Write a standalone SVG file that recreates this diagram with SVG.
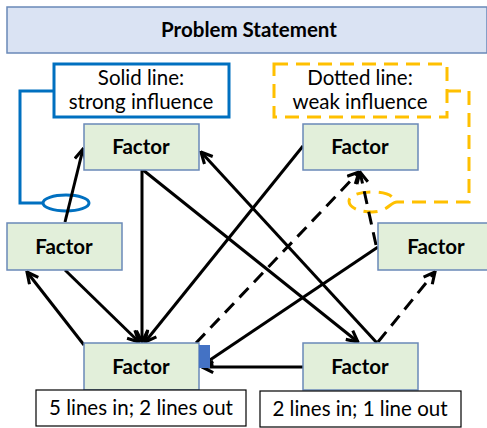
<svg xmlns="http://www.w3.org/2000/svg" width="487" height="428" viewBox="0 0 487 428">
<style>
.node rect{fill:#e2efda;stroke:#6a89b8;stroke-width:1.5}
.node text{font-family:Lato,"Liberation Sans",sans-serif;font-weight:bold;font-size:20.5px;text-anchor:middle;fill:#000}
.lbl{font-family:Lato,"Liberation Sans",sans-serif;font-size:20.5px;text-anchor:middle;fill:#000}
.edge{stroke:#000;stroke-width:3;fill:none;marker-end:url(#arr)}
.dash{stroke-dasharray:13 8}
.note{fill:#fff;stroke:#000;stroke-width:1.2}
</style>
<defs>
<marker id="arr" viewBox="0 0 10 10" refX="9" refY="5" markerWidth="14" markerHeight="14" markerUnits="userSpaceOnUse" orient="auto">
<path d="M1,1 L9,5 L1,9" fill="none" stroke="#000" stroke-width="2.2"/>
</marker>
</defs>
<rect width="487" height="428" fill="#fff"/>
<g id="title">
<rect x="7" y="7" width="480" height="46" fill="#dae3f3" stroke="#6a89b8" stroke-width="1.5"/>
<text x="249" y="37" font-family="Lato,'Liberation Sans',sans-serif" font-weight="bold" font-size="20.5" text-anchor="middle">Problem Statement</text>
</g>
<g id="legend-solid">
<rect x="54" y="64" width="175" height="53" fill="#fff" stroke="#0070c0" stroke-width="3"/>
<text class="lbl" x="141" y="85">Solid line:</text>
<text class="lbl" x="141" y="109">strong influence</text>
<polyline points="54,91 20,91 20,203 43,203" fill="none" stroke="#0070c0" stroke-width="3"/>
<ellipse cx="66" cy="203" rx="23" ry="8" fill="none" stroke="#0070c0" stroke-width="3"/>
</g>
<g id="legend-dotted">
<rect x="274" y="64" width="173" height="53" fill="#fff" stroke="#ffc000" stroke-width="3" stroke-dasharray="14 8"/>
<text class="lbl" x="360" y="85">Dotted line:</text>
<text class="lbl" x="360" y="109">weak influence</text>
<polyline points="447,91 469,91 469,202 397,202" fill="none" stroke="#ffc000" stroke-width="3" stroke-dasharray="14 8"/>
<path d="M397,202 C390,202 388,212 372,212 C356,212 349,206 349,201 C349,196 358,192 372,192 C386,192 393,196 393,199" fill="none" stroke="#ffc000" stroke-width="3" stroke-dasharray="14 8"/>
</g>
<g id="connectors">
<line class="edge" x1="65" y1="222" x2="83" y2="149"/>
<line class="edge" x1="377" y1="343" x2="201" y2="152"/>
<line class="edge" x1="142" y1="170" x2="142" y2="342"/>
<line class="edge" x1="303" y1="146" x2="145" y2="342"/>
<line class="edge dash" x1="196" y1="343" x2="359" y2="172"/>
<line class="edge" x1="143" y1="170" x2="358" y2="342"/>
<line class="edge" x1="378" y1="247" x2="201" y2="366"/>
<line class="edge dash" x1="376" y1="245" x2="360" y2="172"/>
<line class="edge dash" x1="378" y1="342" x2="435" y2="272"/>
<line class="edge" x1="303" y1="367" x2="202" y2="367"/>
<line class="edge" x1="84" y1="345" x2="27" y2="272"/>
<line class="edge" x1="65" y1="270" x2="139" y2="342"/>
</g>
<g id="n-topleft" class="node"><rect x="84" y="124" width="115" height="46"/><text x="141" y="154">Factor</text></g>
<g id="n-topright" class="node"><rect x="303" y="124" width="115" height="46"/><text x="360" y="154">Factor</text></g>
<g id="n-midleft" class="node"><rect x="7" y="223" width="115" height="47"/><text x="64" y="254">Factor</text></g>
<g id="n-midright" class="node"><rect x="378" y="223" width="115" height="47"/><text x="436" y="254">Factor</text></g>
<g id="n-botleft" class="node"><rect x="84" y="343" width="115" height="47"/><text x="141" y="374">Factor</text>
<rect x="199" y="345" width="11" height="23" style="fill:#4472c4;stroke:none"/></g>
<g id="n-botright" class="node"><rect x="303" y="343" width="115" height="47"/><text x="360" y="374">Factor</text></g>
<g id="note-left"><rect class="note" x="36" y="390" width="210" height="36"/><text class="lbl" x="141" y="415">5 lines in; 2 lines out</text></g>
<g id="note-right"><rect class="note" x="260" y="391" width="201" height="36"/><text class="lbl" x="360" y="416">2 lines in; 1 line out</text></g>
</svg>
